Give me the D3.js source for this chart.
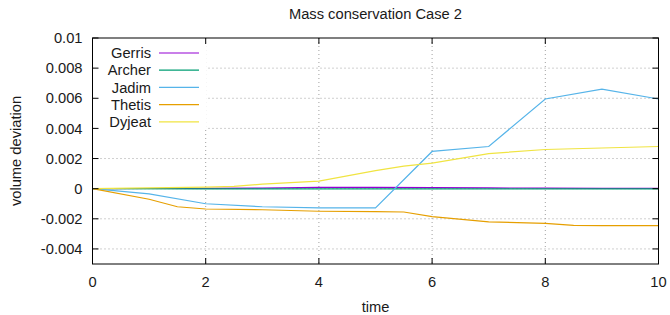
<!DOCTYPE html>
<html>
<head>
<meta charset="utf-8">
<script src="https://cdn.jsdelivr.net/npm/d3@7"></script>
<style>
  body { margin: 0; background: #fff; }
  svg text { font-family: "Liberation Sans", Arial, sans-serif; fill: #1a1a1a; }
</style>
</head>
<body>
<svg id="chart" width="670" height="315"></svg>
<script>
// data
let seriesNames = ["Gerris", "Archer", "Jadim", "Thetis", "Dyjeat"];
let seriesColors = ["#9400d3", "#009e73", "#56b4e9", "#e69f00", "#f0e442"];

let gerrisT = [0, 1, 2, 3, 4, 5, 6, 7, 8, 9, 10];
let gerrisV = [0, 0.00001, 0.00002, 0.00004, 0.00008, 0.00008, 0.00007, 0.00005, 0.00003, 0.00002, 0.00002];

let archerT = [0, 2, 4, 6, 8, 10];
let archerV = [0, -0.00001, -0.00002, -0.00002, -0.00002, -0.00002];

let jadimT = [0, 1, 2, 3, 4, 5, 6, 7, 8, 9, 10];
let jadimV = [0, -0.00035, -0.001, -0.0012, -0.00128, -0.00128, 0.00247, 0.0028, 0.00595, 0.0066, 0.00595];

let thetisT = [0, 1, 1.5, 2, 3, 4, 5, 5.5, 6, 7, 8, 8.5, 9, 10];
let thetisV = [0, -0.0007, -0.0012, -0.00135, -0.0014, -0.0015, -0.00153, -0.00155, -0.00185, -0.0022, -0.0023, -0.00243, -0.00245, -0.00245];

let dyjeatT = [0, 1, 2, 2.5, 3, 4, 5, 5.5, 6, 7, 8, 9, 10];
let dyjeatV = [0, 0.00005, 0.0001, 0.00015, 0.0003, 0.0005, 0.0012, 0.0015, 0.0017, 0.00233, 0.0026, 0.0027, 0.0028];

let xTicks = [0, 2, 4, 6, 8, 10];
let yTicks = [0.01, 0.008, 0.006, 0.004, 0.002, 0, -0.002, -0.004];
let yTickLabels = ["0.01", "0.008", "0.006", "0.004", "0.002", "0", "-0.002", "-0.004"];

let seriesT = [gerrisT, archerT, jadimT, thetisT, dyjeatT];
let seriesV = [gerrisV, archerV, jadimV, thetisV, dyjeatV];

let svg = d3.select("#chart");
let plotLeft = 92.5, plotRight = 658.5, plotTop = 38, plotBottom = 264;

let x = d3.scaleLinear().domain([0, 10]).range([plotLeft, plotRight]);
let y = d3.scaleLinear().domain([-0.005, 0.01]).range([plotBottom, plotTop]);

// grid
let grid = svg.append("g");
grid.selectAll(".vgrid")
  .data(xTicks.slice(1, -1))
  .enter().append("line")
  .attr("x1", d => x(d)).attr("x2", d => x(d))
  .attr("y1", plotTop).attr("y2", plotBottom)
  .style("stroke", "#a0a0a0").style("stroke-width", 1)
  .style("stroke-dasharray", "1,3");
grid.selectAll(".hgrid")
  .data(yTicks.slice(1))
  .enter().append("line")
  .attr("x1", plotLeft).attr("x2", plotRight)
  .attr("y1", d => y(d)).attr("y2", d => y(d))
  .style("stroke", "#a0a0a0").style("stroke-width", 1)
  .style("stroke-dasharray", "1,3");

// opaque key box
svg.append("rect")
  .attr("x", plotLeft + 1).attr("y", plotTop + 1)
  .attr("width", 113).attr("height", 91)
  .style("fill", "#fff");

// lines
let line = d3.line()
  .x(d => x(d[0]))
  .y(d => y(d[1]));

seriesNames.forEach(function(name, i) {
  let pts = seriesT[i].map((t, j) => [t, seriesV[i][j]]);
  svg.append("path")
    .datum(pts)
    .attr("d", line)
    .style("fill", "none")
    .style("stroke", seriesColors[i])
    .style("stroke-width", 1.2);
});

// frame
svg.append("rect")
  .attr("x", plotLeft).attr("y", plotTop)
  .attr("width", plotRight - plotLeft).attr("height", plotBottom - plotTop)
  .style("fill", "none").style("stroke", "#000").style("stroke-width", 1);

// ticks, mirrored inside
let tickLen = 6;
let ticks = svg.append("g").style("stroke", "#000").style("stroke-width", 1);
xTicks.forEach(function(t) {
  ticks.append("line").attr("x1", x(t)).attr("x2", x(t)).attr("y1", plotBottom).attr("y2", plotBottom - tickLen);
  ticks.append("line").attr("x1", x(t)).attr("x2", x(t)).attr("y1", plotTop).attr("y2", plotTop + tickLen);
});
yTicks.forEach(function(t) {
  ticks.append("line").attr("x1", plotLeft).attr("x2", plotLeft + tickLen).attr("y1", y(t)).attr("y2", y(t));
  ticks.append("line").attr("x1", plotRight).attr("x2", plotRight - tickLen).attr("y1", y(t)).attr("y2", y(t));
});

// tick labels
svg.selectAll(".xlab")
  .data(xTicks)
  .enter().append("text")
  .attr("x", d => x(d))
  .attr("y", 287)
  .attr("text-anchor", "middle")
  .style("font-size", "14.7px")
  .text(d => d);

svg.selectAll(".ylab")
  .data(yTicks)
  .enter().append("text")
  .attr("x", plotLeft - 10)
  .attr("y", d => y(d))
  .attr("dy", "0.35em")
  .attr("text-anchor", "end")
  .style("font-size", "14.7px")
  .text((d, i) => yTickLabels[i]);

// titles
svg.append("text")
  .attr("x", (plotLeft + plotRight) / 2).attr("y", 19)
  .attr("text-anchor", "middle")
  .style("font-size", "14.7px")
  .text("Mass conservation Case 2");

svg.append("text")
  .attr("x", (plotLeft + plotRight) / 2).attr("y", 312)
  .attr("text-anchor", "middle")
  .style("font-size", "14.7px")
  .text("time");

svg.append("text")
  .attr("transform", "translate(21," + ((plotTop + plotBottom) / 2) + ") rotate(-90)")
  .attr("text-anchor", "middle")
  .style("font-size", "14.7px")
  .text("volume deviation");

// legend
let key = svg.append("g");
seriesNames.forEach(function(name, i) {
  let ky = 53 + i * 17.2;
  key.append("text")
    .attr("x", 151).attr("y", ky)
    .attr("dy", "0.35em")
    .attr("text-anchor", "end")
    .style("font-size", "14.7px")
    .text(name);
  key.append("line")
    .attr("x1", 159).attr("x2", 199)
    .attr("y1", ky).attr("y2", ky)
    .style("stroke", seriesColors[i])
    .style("stroke-width", 1.2);
});
</script>
</body>
</html>
